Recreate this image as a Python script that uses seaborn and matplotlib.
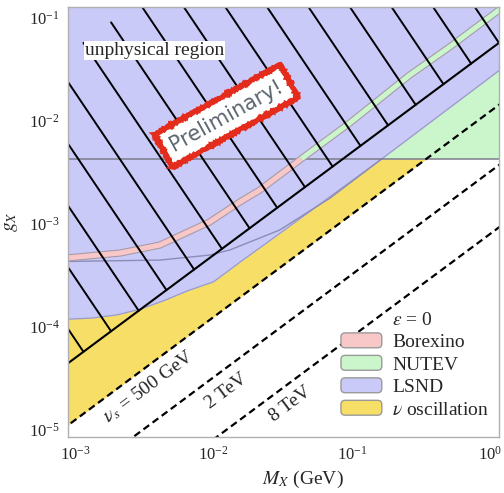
import numpy as np
import matplotlib
matplotlib.use("Agg")
import matplotlib.pyplot as plt
import matplotlib.patheffects as pe
import seaborn as sns
from matplotlib.patches import Patch, FancyBboxPatch
from matplotlib.legend_handler import HandlerPatch

# NUTEV bound (horizontal)
g_nutev = 4.3e-3

# LSND lower edge of excluded region
lsnd_M = [8.6e-4, 1.3e-3, 2.0e-3, 3.0e-3, 4.5e-3, 6.5e-3, 1.0e-2, 1.6e-2, 3.0e-2, 0.164, 1.2]
lsnd_g = [1.19e-4, 1.22e-4, 1.31e-4, 1.5e-4, 1.83e-4, 2.25e-4, 2.75e-4, 4.4e-4, 8.1e-4, 4.3e-3, 0.0323]

# second LSND contour (thin line)
lsnd2_M = [8.6e-4, 4.1e-3, 9.4e-3, 1.31e-2, 3.0e-2, 6.95e-2, 0.164]
lsnd2_g = [4.33e-4, 4.47e-4, 5.0e-4, 5.6e-4, 8.75e-4, 1.79e-3, 4.3e-3]

# Borexino thin band
borex_M = [8.6e-4, 2.11e-3, 4.09e-3, 9.4e-3, 1.55e-2, 2.16e-2, 4.3e-2, 9.64e-2, 0.261, 0.508, 1.2]
borex_g = [4.68e-4, 5.23e-4, 6.25e-4, 1.05e-3, 1.64e-3, 2.14e-3, 4.3e-3, 9.6e-3, 0.028, 0.0526, 0.125]

# unphysical region boundary and hatch feet
unphys_M = [8.0e-4, 1.3]
unphys_g = [4.0e-5, 6.5e-2]
hatch_M = [1.15e-3, 1.82e-3, 2.88e-3, 4.57e-3, 7.24e-3, 1.15e-2, 1.82e-2, 2.88e-2,
           4.57e-2, 7.24e-2, 0.115, 0.182, 0.288, 0.457, 0.724, 1.15]
hatch_power = -2

# collider reach lines
ecm_M = [8.0e-4, 1.3]
ecm_g = {
    "500": [1.0e-5, 1.625e-2],
    "2000": [2.6e-6, 4.23e-3],
    "8000": [6.5e-7, 1.05e-3],
}
ecm_labels = [r"$\nu_s$ = 500 GeV", "2 TeV", "8 TeV"]
ecm_label_M = [3.4e-3, 1.23e-2, 3.6e-2]
ecm_label_g = [2.67e-5, 2.39e-5, 1.79e-5]

legend_names = ["Borexino", "NUTEV", "LSND", r"$\nu$ oscillation"]
c_pink = "#F8C8C8"
c_green = "#CBF5CB"
c_lav = "#C9CAF8"
c_yel = "#F7DE66"
legend_colors = [c_pink, c_green, c_lav, c_yel]

sns.set_theme(style="white")
plt.rcParams["font.family"] = ["Liberation Serif", "DejaVu Serif"]
plt.rcParams["mathtext.fontset"] = "stix"

fig = plt.figure(figsize=(5.04, 4.93), dpi=100)
ax = fig.add_axes([0.135, 0.1136, 0.855, 0.872])
ax.set_xscale("log")
ax.set_yscale("log")

# regions
ax.fill_between(ecm_M, ecm_g["500"], g_nutev, where=np.array(ecm_g["500"]) < g_nutev,
                interpolate=True, color=c_yel, lw=0, zorder=1)
ax.axhspan(g_nutev, 1, color=c_green, lw=0, zorder=1.1)
ax.fill_between(lsnd_M, lsnd_g, 1, color=c_lav, lw=0, zorder=1.2)
sns.lineplot(x=lsnd_M, y=lsnd_g, ax=ax, color="#9b9bc8", lw=0.9, sort=False, zorder=1.3)
sns.lineplot(x=lsnd2_M, y=lsnd2_g, ax=ax, color="#8c8cb8", lw=1.0, sort=False, zorder=1.3)
ax.axhline(g_nutev, color="#7c7c8c", lw=1.1, zorder=1.4)

# Borexino band, green above the NUTEV line
bm = np.array(borex_M)
bg = np.array(borex_g)
lo = bg <= g_nutev
hi = bg >= g_nutev
band_fx = [pe.Stroke(linewidth=5.2, foreground="#a89aa8"), pe.Normal()]
ax.plot(bm[lo], bg[lo], color=c_pink, lw=3.6, solid_capstyle="butt", zorder=1.5, path_effects=band_fx)
ax.plot(bm[hi], bg[hi], color=c_green, lw=3.6, solid_capstyle="butt", zorder=1.5, path_effects=band_fx)

# collider lines
for key in ecm_g:
    ln, = ax.plot(ecm_M, ecm_g[key], color="black", lw=1.6, zorder=2)
    ln.set_dashes([3.2, 1.9])
ang = np.degrees(np.arctan(0.872 * 4.93 / 4.15 / (0.855 * 5.04 / 3.11)))
for lab, xm, yg in zip(ecm_labels, ecm_label_M, ecm_label_g):
    ax.text(xm, yg, lab, rotation=ang, ha="center", va="center", fontsize=14, zorder=3)

# unphysical region
ax.plot(unphys_M, unphys_g, color="black", lw=1.5, zorder=3)
for m in hatch_M:
    g0 = np.interp(m, unphys_M, unphys_g)
    ax.plot([m, m / 10], [g0, g0 * 10 ** (-hatch_power)], color="black", lw=1.4, zorder=3)

ax.text(3.77e-3, 0.0489, "unphysical region", fontsize=14, ha="center", va="center", zorder=4,
        bbox=dict(boxstyle="square,pad=0.05", fc="white", ec="none"))

stamp = ax.text(0.01236, 0.01125, "Preliminary!", fontsize=15, family="DejaVu Sans",
                color="#5c646e", rotation=29, ha="center", va="center", zorder=5,
                bbox=dict(boxstyle="square,pad=0.42", fc="white", ec="#E32C1C", lw=3.5))
stamp.get_bbox_patch().set_sketch_params(scale=0.8, length=2, randomness=2)

ax.set_xlim(8.9e-4, 1.15)
ax.set_ylim(8.55e-6, 0.128)

# legend
def rounded(legend, orig_handle, xdescent, ydescent, width, height, fontsize):
    return FancyBboxPatch((-xdescent, -ydescent), width, height,
                          boxstyle="round,pad=0,rounding_size=3")

handles = [Patch(visible=False)] + [Patch(fc=c, ec="#9a9a9a", lw=1) for c in legend_colors]
labels = [r"$\varepsilon$ = 0"] + legend_names
leg = ax.legend(handles, labels, loc="lower right", bbox_to_anchor=(0.978, 0.043),
                frameon=False, fontsize=14, handlelength=2.1, handleheight=0.8,
                handletextpad=0.55, labelspacing=0.22, borderpad=0, borderaxespad=0,
                handler_map={Patch: HandlerPatch(patch_func=rounded)})
leg.set_zorder(6)

ax.set_xlabel(r"$M_X$ (GeV)", fontsize=14)
ax.set_ylabel(r"$g_X$", fontsize=14)
ax.xaxis.set_label_coords(0.545, -0.075)
ax.yaxis.set_label_coords(-0.112, 0.5)

for s in ax.spines.values():
    s.set_color("#b0b0b0")
    s.set_linewidth(1)
    s.set_zorder(7)
ax.tick_params(which="both", direction="in", color="#999999", labelsize=12)
ax.tick_params(which="major", length=6, width=0.8, pad=6)
ax.tick_params(which="minor", length=3.5, width=0.6)

fig.savefig("out.png", dpi=100)
